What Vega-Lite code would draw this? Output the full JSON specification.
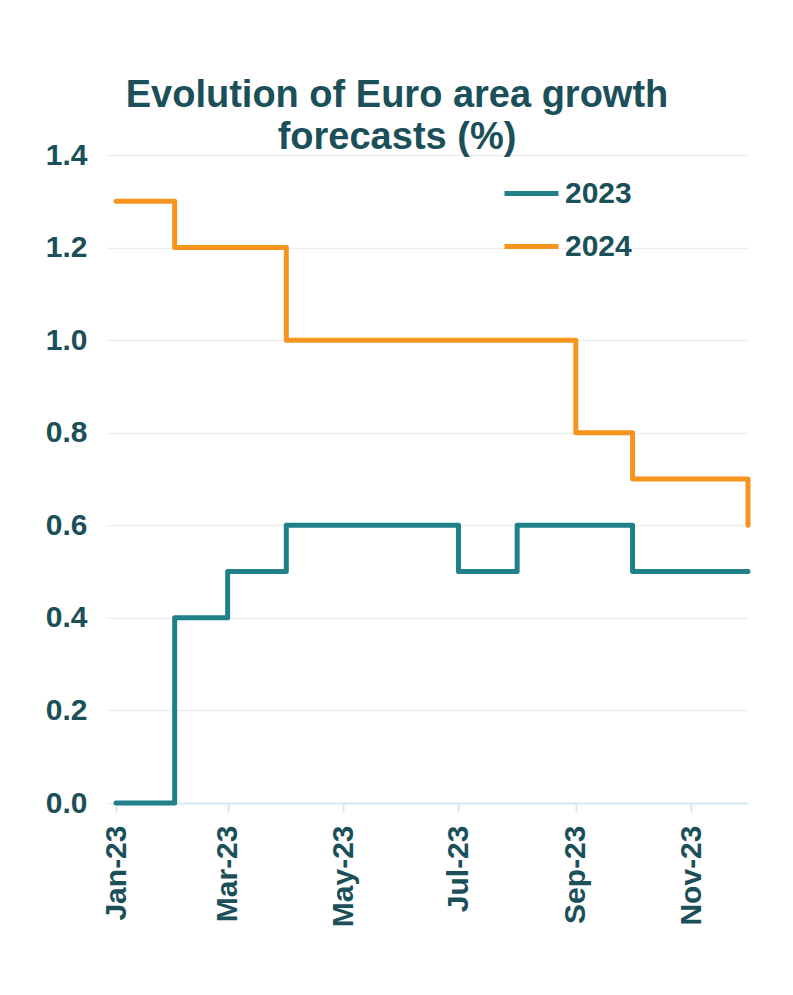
{
  "$schema": "https://vega.github.io/schema/vega-lite/v6.json",
  "autosize": {"type": "none"},
  "width": 632,
  "height": 648,
  "padding": {"left": 116, "top": 155, "right": 45, "bottom": 192},
  "background": "white",
  "title": {
    "text": ["Evolution of Euro area growth", "forecasts (%)"],
    "font": "Liberation Sans",
    "fontSize": 38,
    "fontWeight": "bold",
    "color": "#1b4f59",
    "anchor": "middle",
    "frame": "group",
    "dx": -35,
    "lineHeight": 42,
    "offset": -17
  },
  "data": {
    "values": [
      {"date": "2023-01-01", "series": "2023", "value": 0.0},
      {"date": "2023-02-01", "series": "2023", "value": 0.4},
      {"date": "2023-03-01", "series": "2023", "value": 0.5},
      {"date": "2023-04-01", "series": "2023", "value": 0.6},
      {"date": "2023-05-01", "series": "2023", "value": 0.6},
      {"date": "2023-06-01", "series": "2023", "value": 0.6},
      {"date": "2023-07-01", "series": "2023", "value": 0.5},
      {"date": "2023-08-01", "series": "2023", "value": 0.6},
      {"date": "2023-09-01", "series": "2023", "value": 0.6},
      {"date": "2023-10-01", "series": "2023", "value": 0.5},
      {"date": "2023-11-01", "series": "2023", "value": 0.5},
      {"date": "2023-12-01", "series": "2023", "value": 0.5},
      {"date": "2023-01-01", "series": "2024", "value": 1.3},
      {"date": "2023-02-01", "series": "2024", "value": 1.2},
      {"date": "2023-03-01", "series": "2024", "value": 1.2},
      {"date": "2023-04-01", "series": "2024", "value": 1.0},
      {"date": "2023-05-01", "series": "2024", "value": 1.0},
      {"date": "2023-06-01", "series": "2024", "value": 1.0},
      {"date": "2023-07-01", "series": "2024", "value": 1.0},
      {"date": "2023-08-01", "series": "2024", "value": 1.0},
      {"date": "2023-09-01", "series": "2024", "value": 0.8},
      {"date": "2023-10-01", "series": "2024", "value": 0.7},
      {"date": "2023-11-01", "series": "2024", "value": 0.7},
      {"date": "2023-12-01", "series": "2024", "value": 0.6}
    ]
  },
  "mark": {"type": "line", "interpolate": "step-after", "strokeWidth": 5, "strokeCap": "round", "strokeJoin": "round"},
  "encoding": {
    "x": {
      "field": "date",
      "type": "temporal",
      "scale": {"domain": ["2023-01-01", "2023-12-01"]},
      "axis": {
        "title": null,
        "format": "%b-%y",
        "tickCount": {"interval": "month", "step": 2},
        "labelAngle": -90,
        "labelFont": "Liberation Sans",
        "labelFontSize": 30,
        "labelFontWeight": "bold",
        "labelColor": "#1b4f59",
        "labelPadding": 13,
        "domainColor": "#d3ebf1",
        "domainWidth": 2,
        "tickColor": "#d3ebf1",
        "tickWidth": 2,
        "tickSize": 9,
        "grid": false,
        "labelFlush": false,
        "labelOverlap": false
      }
    },
    "y": {
      "field": "value",
      "type": "quantitative",
      "scale": {"domain": [0, 1.4], "nice": false},
      "axis": {
        "title": null,
        "values": [0, 0.2, 0.4, 0.6, 0.8, 1.0, 1.2, 1.4],
        "format": ".1f",
        "labelFont": "Liberation Sans",
        "labelFontSize": 30,
        "labelFontWeight": "bold",
        "labelColor": "#1b4f59",
        "labelPadding": 19,
        "domain": false,
        "tickColor": "#eeeeee",
        "tickSize": 10,
        "tickWidth": 1.5,
        "gridColor": "#eeeeee",
        "gridWidth": 1.5
      }
    },
    "color": {
      "field": "series",
      "type": "nominal",
      "scale": {"domain": ["2023", "2024"], "range": ["#1f8089", "#f7941d"]},
      "legend": {
        "title": null,
        "orient": "none",
        "legendX": 386,
        "legendY": 9,
        "symbolType": "stroke",
        "symbolSize": 2916,
        "symbolStrokeWidth": 5,
        "labelFont": "Liberation Sans",
        "labelFontSize": 30,
        "labelFontWeight": "bold",
        "labelColor": "#1b4f59",
        "labelOffset": 4,
        "rowPadding": 8,
        "labelLimit": 200
      }
    }
  },
  "config": {"view": {"stroke": null}}
}
